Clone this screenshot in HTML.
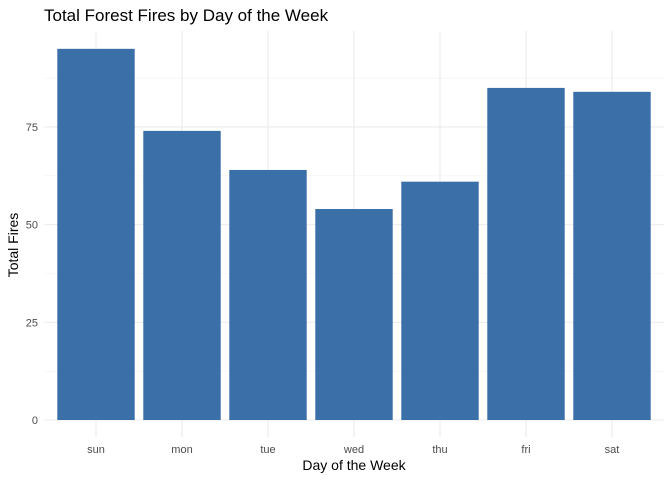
<!DOCTYPE html>
<html><head><meta charset="utf-8"><style>body{margin:0;background:#fff}svg{display:block;font-family:"Liberation Sans",sans-serif}</style></head>
<body>
<svg id="c" width="672" height="480"></svg>
<script>
const categories=["sun","mon","tue","wed","thu","fri","sat"];
const values=[95,74,64,54,61,85,84];
const yTicks=[0,25,50,75];
const yMinor=[12.5,37.5,62.5,87.5];
const svg=document.getElementById('c');
const NS='http://www.w3.org/2000/svg';
const L=44.4,R=663.6,T=31,B=420,PB=437;
const step=(R-L)/(categories.length+0.2);
const xc=i=>L+step*(0.6+i);
const y=v=>B-v*3.907;
function mk(t,a,p){const e=document.createElementNS(NS,t);for(const k in a)e.setAttribute(k,a[k]);(p||svg).appendChild(e);return e;}
const grid=mk('g',{});


yMinor.forEach(v=>mk('line',{x1:L,x2:R,y1:y(v),y2:y(v),stroke:'#f0f0f0','stroke-width':0.6},grid));
yTicks.forEach(v=>mk('line',{x1:L,x2:R,y1:y(v),y2:y(v),stroke:'#ebebeb','stroke-width':1.1},grid));
categories.forEach((c,i)=>mk('line',{x1:xc(i),x2:xc(i),y1:T,y2:PB,stroke:'#ebebeb','stroke-width':1.1},grid));
values.forEach((v,i)=>{const r=mk('rect',{x:xc(i)-step*0.45,width:step*0.9,y:y(v),height:B-y(v),fill:'#3a6fa8'});

});
yTicks.forEach(v=>{const t=mk('text',{x:38,y:y(v)+4,'text-anchor':'end','font-size':11,fill:'#4d4d4d'});t.textContent=v;

});
categories.forEach((c,i)=>{const t=mk('text',{x:xc(i),y:453,'text-anchor':'middle','font-size':11,fill:'#4d4d4d'});t.textContent=c;

});
let t=mk('text',{x:354,y:470,'text-anchor':'middle','font-size':14,fill:'#000'});t.textContent='Day of the Week';


t=mk('text',{x:0,y:0,'text-anchor':'middle','font-size':14,fill:'#000',transform:'translate(18,245) rotate(-90)'});t.textContent='Total Fires';


t=mk('text',{x:44,y:21,'font-size':17,fill:'#000'});t.textContent='Total Forest Fires by Day of the Week';


</script>
</body></html>
